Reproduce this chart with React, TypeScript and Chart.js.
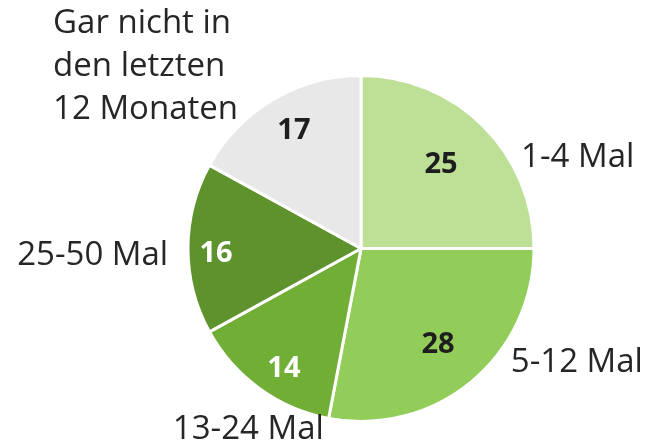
import React, { useEffect, useRef } from "react";
import { Chart, registerables } from "chart.js";

Chart.register(...registerables);

const categories: string[][] = [
  ["1-4 Mal"],
  ["5-12 Mal"],
  ["13-24 Mal"],
  ["25-50 Mal"],
  ["Gar nicht in", "den letzten", "12 Monaten"],
];
const values: number[] = [25, 28, 14, 16, 17];
const colors: string[] = ["#bddf96", "#92cd5a", "#70ae35", "#5e922d", "#e7e8e7"];
const valueTextColors: string[] = ["#1e1e1e", "#1e1e1e", "#ffffff", "#ffffff", "#1e1e1e"];

// label placement, in radius units from the pie centre
const insideOffsets: [number, number][] = [
  [0.465, -0.494],
  [0.448, 0.552],
  [-0.448, 0.695],
  [-0.843, 0.026],
  [-0.39, -0.689],
];
const outsideOffsets: [number, number][] = [
  [1.26, -0.53],
  [1.255, 0.665],
  [-0.655, 1.055],
  [-1.56, 0.04],
  [-1.79, -1.06],
];
const outsideAligns: CanvasTextAlign[] = ["center", "center", "center", "center", "left"];

const labelPlugin = {
  id: "pieLabels",
  afterDatasetsDraw(chart: any) {
    const ctx = chart.ctx;
    const meta = chart.getDatasetMeta(0);
    meta.data.forEach((arc: any, i: number) => {
      const { x, y } = arc.getProps(["x", "y"], true);
      const R = 172;
      ctx.save();
      ctx.font = "bold 29px 'Open Sans'";
      ctx.fillStyle = valueTextColors[i];
      ctx.textAlign = "center";
      ctx.textBaseline = "middle";
      const [ix, iy] = insideOffsets[i];
      ctx.fillText(String(values[i]), x + ix * R, y + iy * R + 1);
      // outside label
      const [ox, oy] = outsideOffsets[i];
      const lx = x + ox * R;
      const ly = y + oy * R;
      ctx.font = "33px 'Open Sans'";
      ctx.fillStyle = "#262626";
      ctx.textAlign = outsideAligns[i];
      const lines = categories[i];
      const lh = 43;
      lines.forEach((line, k) => {
        ctx.fillText(line, lx, ly + (k - (lines.length - 1) / 2) * lh);
      });
      ctx.restore();
    });
  },
};

export default function App() {
  const ref = useRef<HTMLCanvasElement>(null);
  useEffect(() => {
    if (!ref.current) return;
    const chart = new Chart(ref.current, {
      type: "pie",
      data: {
        labels: categories.map((c) => c.join(" ")),
        datasets: [
          {
            data: values,
            backgroundColor: colors,
            borderColor: "#ffffff",
            borderWidth: 3,
          },
        ],
      },
      options: {
        animation: false,
        responsive: false,
        layout: { padding: { top: 74, bottom: 22, left: 71, right: 0 } },
        plugins: {
          legend: { display: false },
          tooltip: { enabled: false },
        },
      },
      plugins: [labelPlugin],
    });
    return () => chart.destroy();
  }, []);
  return (
    <div style={{ position: "fixed", left: 0, top: 0, width: 651, height: 445, background: "#fff" }}>
      <canvas ref={ref} width={651} height={445} style={{ width: 651, height: 445 }} />
    </div>
  );
}
